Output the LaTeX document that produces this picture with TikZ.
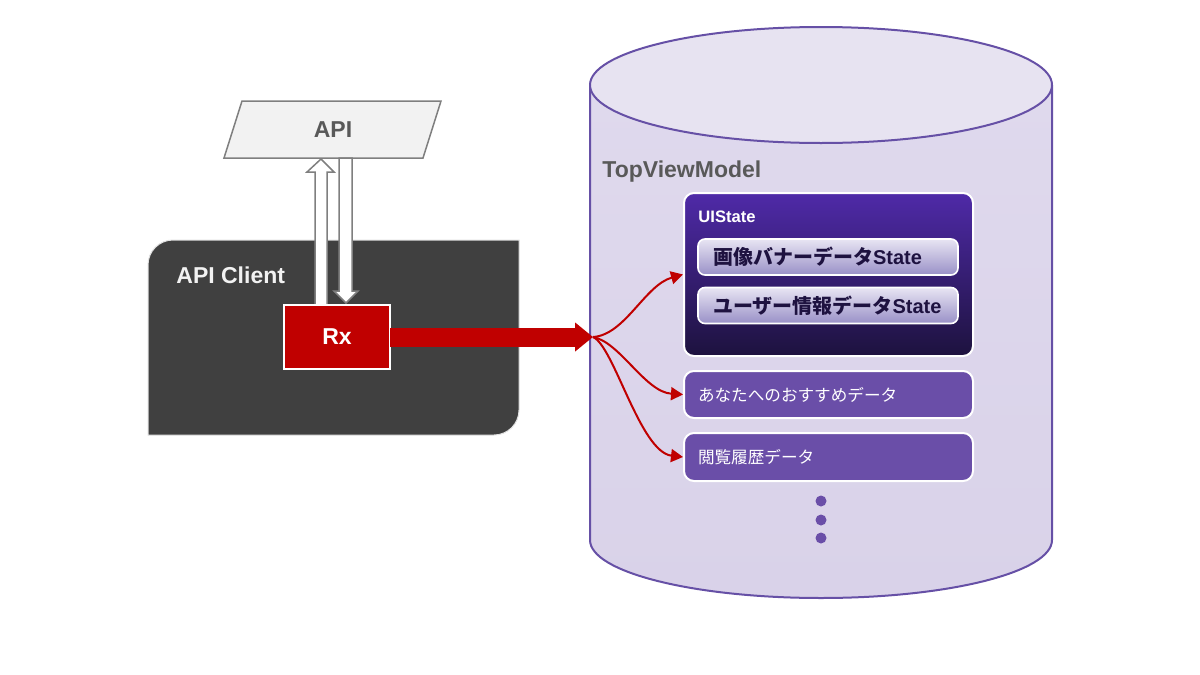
\documentclass[tikz,border=0pt]{standalone}
\usepackage{fontspec}
\setmainfont{Liberation Sans}
\newfontfamily\cjk{Noto Sans CJK JP}
\usetikzlibrary{arrows.meta}
\definecolor{apigray}{HTML}{F2F2F2}
\definecolor{linegray}{HTML}{7F7F7F}
\definecolor{txtgray}{HTML}{595959}
\definecolor{clientgray}{HTML}{404040}
\definecolor{rxred}{HTML}{C00000}
\definecolor{cylbody}{HTML}{D9D2E9}
\definecolor{cylbodytop}{HTML}{DFD9ED}
\definecolor{cyltop}{HTML}{E7E3F1}
\definecolor{cylline}{HTML}{6650A6}
\definecolor{uitop}{HTML}{4F2AA8}
\definecolor{uibot}{HTML}{1D123E}
\definecolor{pilltop}{HTML}{E8E5F3}
\definecolor{pillbot}{HTML}{9990C7}
\definecolor{pilltext}{HTML}{1E1240}
\definecolor{listfill}{HTML}{6A4EA8}
\begin{document}
\begin{tikzpicture}[x=0.5pt,y=0.5pt,
  hollowarrow/.style={fill=white, draw=linegray, line width=0.75pt, line join=miter},
  uibox/.style={rounded corners=5pt, top color=uitop, bottom color=uibot, draw=white, line width=1pt},
  pillbox/.style={rounded corners=3.5pt, top color=pilltop, bottom color=pillbot, draw=white, line width=0.8pt,
     minimum width=130pt, minimum height=18pt, text width=115pt, inner xsep=7.5pt, inner ysep=0pt, align=left,
     text=pilltext, font=\bfseries\fontsize{10}{12}\selectfont},
  listbox/.style={rounded corners=5pt, fill=listfill, draw=white, line width=1pt,
     minimum width=144.5pt, text width=130.5pt, inner xsep=7pt, inner ysep=0pt, align=left,
     text=white, font=\cjk\fontsize{8.3}{10}\selectfont},
  flow/.style={draw=rxred, line width=1pt, -{Triangle[length=6pt,width=6.5pt]}},
  dotnode/.style={circle, fill=listfill, inner sep=0pt, minimum size=5.5pt},
  title/.style={font=\bfseries\fontsize{11.5}{14}\selectfont, inner sep=0pt}
]
\useasboundingbox (0,0) rectangle (1200,-675);

% ---------- cylinder (TopViewModel) ----------
\shade[top color=cylbodytop, bottom color=cylbody]
  (590,-85) -- (590,-540) arc[start angle=180, end angle=360, x radius=231, y radius=58] -- (1052,-85) -- cycle;
\draw[cylline, line width=1pt]
  (590,-85) -- (590,-540) arc[start angle=180, end angle=360, x radius=231, y radius=58] -- (1052,-85);
\filldraw[fill=cyltop, draw=cylline, line width=1pt] (821,-85) ellipse[x radius=231, y radius=58];
\node[title, anchor=base west, text=txtgray] (tvm) at (602,-177) {TopViewModel};

% ---------- API Client ----------
\filldraw[fill=clientgray, draw=apigray!85!gray, line width=0.5pt]
  (148,-435) -- (148,-265) arc[start angle=180, end angle=90, radius=25] -- (519,-240) -- (519,-410)
  arc[start angle=0, end angle=-90, radius=25] -- cycle;
\node[title, anchor=base west, text=apigray] (clientlabel) at (176,-283) {API Client};

% ---------- API ----------
\filldraw[fill=apigray, draw=linegray, line width=0.75pt] (242,-101) -- (441,-101) -- (423,-158) -- (224,-158) -- cycle;
\node[title, text=txtgray] (api) at (333,-130) {API};

% ---------- hollow arrows ----------
\filldraw[hollowarrow] (315,-305) -- (315,-172) -- (307,-172) -- (321,-159) -- (334,-172) -- (327,-172) -- (327,-305) -- cycle;
\filldraw[hollowarrow] (339,-158) -- (339,-291) -- (334,-291) -- (346,-303) -- (358,-291) -- (352,-291) -- (352,-158) -- cycle;

% ---------- Rx ----------
\node[fill=rxred, draw=white, line width=1pt, minimum width=53pt, minimum height=32pt, inner sep=0pt,
      text=white, title] (rx) at (337,-337) {Rx};
\coordinate (hub) at (593,-337);
\draw[rxred, line width=9.5pt, -{Triangle[length=9pt,width=14pt]}] ([xshift=-0.5pt]rx.east) -- (hub);

% ---------- UIState ----------
\node[uibox, minimum width=144.5pt, minimum height=81.5pt] (uistate) at (828.5,-274.5) {};
\node[anchor=west, text=white, font=\bfseries\fontsize{8.3}{10}\selectfont, inner sep=0pt] (uilabel) at (698,-217) {UIState};
\node[pillbox] (pill1) at (828,-257) {{\cjk 画像バナーデータ}State};
\node[pillbox] (pill2) at (828,-305.5) {{\cjk ユーザー情報データ}State};

% ---------- list boxes ----------
\node[listbox, minimum height=23.5pt] (rec) at (828.5,-394.5) {あなたへのおすすめデータ};
\node[listbox, minimum height=24pt] (hist) at (828.5,-457) {閲覧履歴データ};

% ---------- flows ----------
\draw[flow] (hub) .. controls (625,-335) and (645,-285) .. (uistate.west);
\draw[flow] (hub) .. controls (620,-342) and (645,-392) .. (rec.west);
\draw[flow] (hub) .. controls (614,-346) and (640,-452) .. (hist.west);

% ---------- dots ----------
\node[dotnode] (d1) at (821,-501) {};
\node[dotnode] (d2) at (821,-520) {};
\node[dotnode] (d3) at (821,-538) {};
\end{tikzpicture}
\end{document}
